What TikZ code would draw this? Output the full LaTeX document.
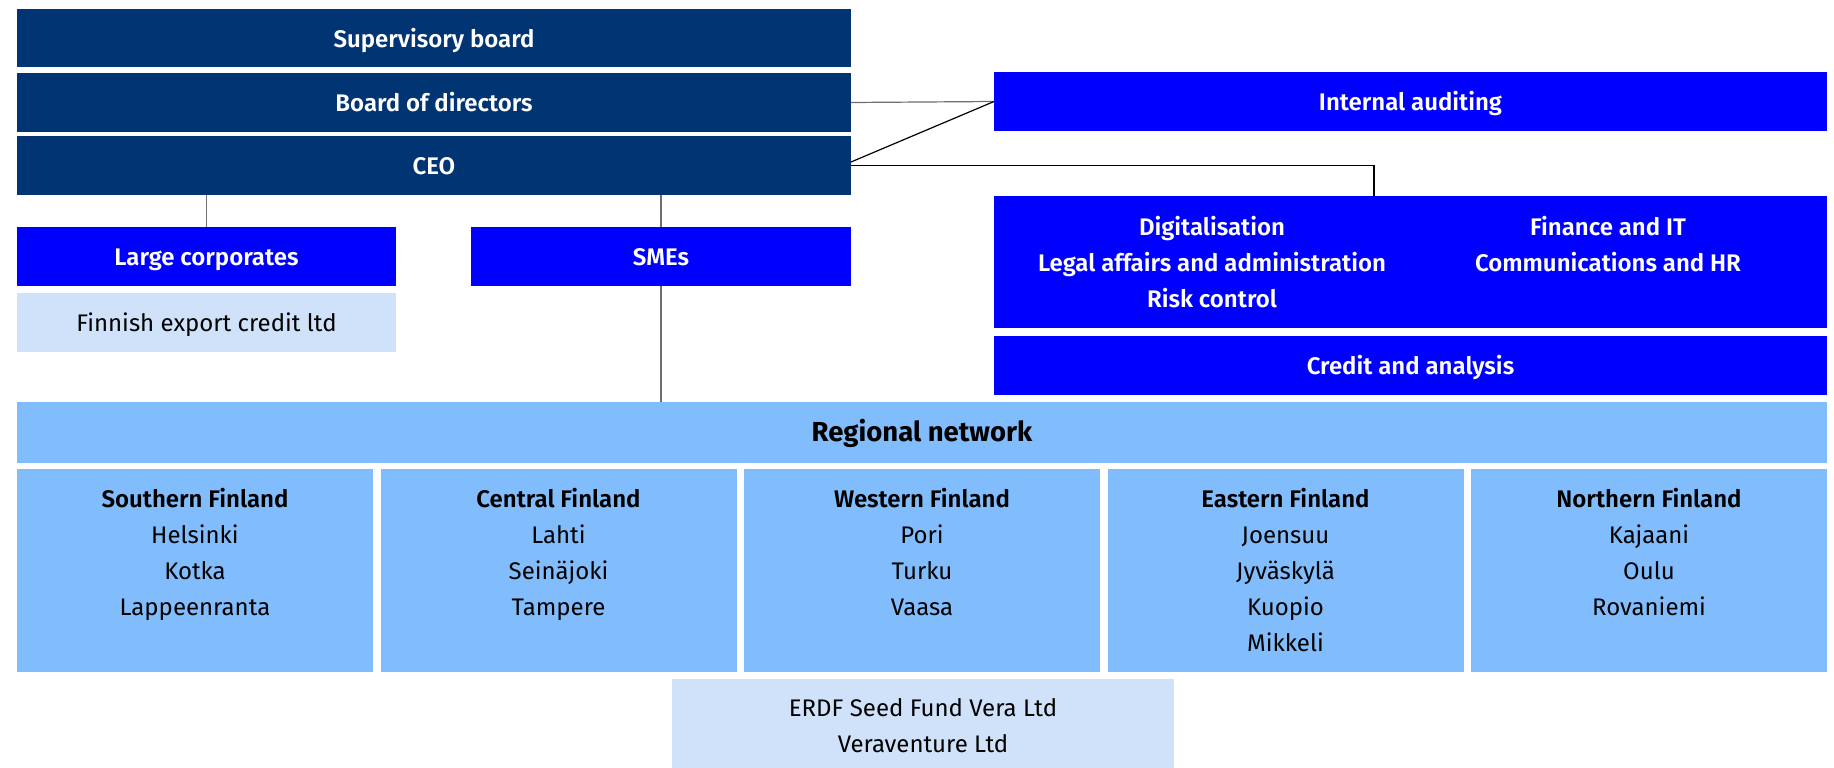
\documentclass[tikz,border=0pt]{standalone}
\usepackage{fontspec}
\setmainfont{Fira Sans}[BoldFont={Fira Sans SemiBold}]
\newfontfamily\firaB{Fira Sans}
\usetikzlibrary{calc}
\definecolor{navy}{RGB}{0,52,115}
\definecolor{vivid}{RGB}{0,0,255}
\definecolor{lightb}{RGB}{129,189,252}
\definecolor{paleb}{RGB}{207,226,249}
\definecolor{lgrey}{RGB}{110,110,110}
\newcommand\bxt[3]{\parbox[t][#2][t]{#1}{\centering\fontsize{24}{36}\selectfont\rule{0pt}{38.5pt}#3\par}}
\newcommand\colbx[1]{\parbox[t]{396pt}{\centering\rule{0pt}{39pt}#1\par}}
\tikzset{
  box/.style={inner sep=0pt, outer sep=0pt, anchor=north west},
  darkbox/.style={box, fill=navy, text=white, font=\bfseries},
  bluebox/.style={box, fill=vivid, text=white, font=\bfseries},
  lightbox/.style={box, fill=lightb, text=black},
  palebox/.style={box, fill=paleb, text=black},
  conn/.style={line width=1.2pt, draw=lgrey},
  connk/.style={line width=1.2pt, draw=black},
}
\begin{document}
\begin{tikzpicture}[x=1pt,y=-1pt]
\fill[white] (0,0) rectangle (1834,768);
\useasboundingbox (0,0) rectangle (1834,768);

\node[darkbox] (sup) at (17,9) {\bxt{834pt}{58pt}{\bfseries Supervisory board}};
\node[darkbox] (board) at (17,73) {\bxt{834pt}{59pt}{\bfseries Board of directors}};
\node[darkbox] (ceo) at (17,136) {\bxt{834pt}{59pt}{\bfseries CEO}};

\node[bluebox] (ia) at (994,72) {\bxt{833pt}{59pt}{\bfseries Internal auditing}};
\node[bluebox] (dig) at (994,196) {\parbox[t][132pt][t]{833pt}{\fontsize{24}{36}\selectfont\bfseries\hspace*{20pt}%
\colbx{Digitalisation\\Legal affairs and administration\\Risk control}%
\colbx{Finance and IT\\Communications and HR}}};
\node[bluebox] (cred) at (994,336) {\bxt{833pt}{59pt}{\bfseries Credit and analysis}};

\node[bluebox] (lc) at (17,227) {\bxt{379pt}{59pt}{\bfseries Large corporates}};
\node[bluebox] (sme) at (471,227) {\bxt{380pt}{59pt}{\bfseries SMEs}};
\node[palebox] (fec) at (17,293) {\bxt{379pt}{59pt}{Finnish export credit ltd}};

\node[lightbox] (reg) at (17,402) {\parbox[t][61pt][t]{1810pt}{\centering\firaB\bfseries\fontsize{27.5}{36}\selectfont\rule{0pt}{39.8pt}Regional network\par}};

\node[lightbox] (south) at (17,469) {\bxt{356pt}{203pt}{\textbf{Southern Finland}\\Helsinki\\Kotka\\Lappeenranta}};
\node[lightbox] (central) at (380.5,469) {\bxt{356pt}{203pt}{\textbf{Central Finland}\\Lahti\\Seinäjoki\\Tampere}};
\node[lightbox] (west) at (744,469) {\bxt{356pt}{203pt}{\textbf{Western Finland}\\Pori\\Turku\\Vaasa}};
\node[lightbox] (east) at (1107.5,469) {\bxt{356pt}{203pt}{\textbf{Eastern Finland}\\Joensuu\\Jyväskylä\\Kuopio\\Mikkeli}};
\node[lightbox] (north) at (1471,469) {\bxt{356pt}{203pt}{\textbf{Northern Finland}\\Kajaani\\Oulu\\Rovaniemi}};

\node[palebox] (erdf) at (672,679) {\parbox[t][89pt][t]{502pt}{\centering\fontsize{24}{36}\selectfont\rule{0pt}{37pt}ERDF Seed Fund Vera Ltd\\Veraventure Ltd\par}};

% connectors
\draw[conn] (board.east) -- (ia.west);
\draw[connk] ([yshift=3.5pt]ceo.east) -- (ia.west);
\draw[connk] (ceo.east) -| ([xshift=-36.5pt]dig.north);
\draw[conn] (lc.north |- ceo.south) -- (lc.north);
\draw[conn] (sme.north |- ceo.south) -- (sme.north);
\draw[conn] (sme.south) -- (sme.south |- reg.north);
\end{tikzpicture}
\end{document}
